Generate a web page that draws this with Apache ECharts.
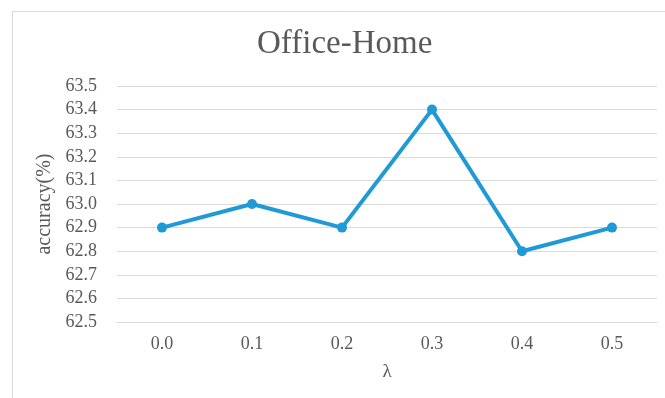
<!DOCTYPE html>
<html>
<head>
<meta charset="utf-8">
<script src="https://cdn.jsdelivr.net/npm/echarts@6/dist/echarts.min.js"></script>
<style>
  html, body { margin: 0; padding: 0; background: #ffffff; }
  #chart { width: 665px; height: 398px; }
</style>
</head>
<body>
<div id="chart"></div>
<script>
// λ values on the x axis
const lambdas = ['0.0', '0.1', '0.2', '0.3', '0.4', '0.5'];
// accuracy (%) on Office-Home for each λ
const accuracy = [62.9, 63.0, 62.9, 63.4, 62.8, 62.9];
// y axis range
const yMin = 62.5;
const yMax = 63.5;
const yStep = 0.1;

const serif = '"Liberation Serif", "Times New Roman", serif';
const textColor = '#595959';

const chart = echarts.init(document.getElementById('chart'), null, { renderer: 'canvas' });
chart.setOption({
  backgroundColor: '#ffffff',
  animation: false,
  graphic: [{
    type: 'rect',
    shape: { x: 12.5, y: 11.5, width: 700, height: 420 },
    style: { fill: 'none', stroke: '#d9d9d9', lineWidth: 1 },
    silent: true
  }],
  title: {
    text: 'Office-Home',
    left: 252,
    top: 23,
    textStyle: { fontFamily: serif, fontSize: 33, fontWeight: 'normal', color: textColor }
  },
  grid: { left: 117, right: 8, top: 86, bottom: 76 },
  xAxis: {
    type: 'category',
    data: lambdas,
    boundaryGap: true,
    name: 'λ',
    nameLocation: 'middle',
    nameGap: 41,
    nameTextStyle: { fontFamily: serif, fontSize: 19, color: textColor },
    axisLine: { show: true, lineStyle: { color: '#d9d9d9', width: 1 } },
    axisTick: { show: false },
    axisLabel: { fontFamily: serif, fontSize: 18, color: textColor, margin: 13 }
  },
  yAxis: {
    type: 'value',
    min: yMin,
    max: yMax,
    interval: yStep,
    name: 'accuracy(%)',
    nameLocation: 'middle',
    nameGap: 57,
    nameTextStyle: { fontFamily: serif, fontSize: 20, color: textColor },
    axisLine: { show: false },
    axisTick: { show: false },
    axisLabel: {
      fontFamily: serif, fontSize: 18, color: textColor, margin: 20,
      formatter: v => v.toFixed(1)
    },
    splitLine: { lineStyle: { color: '#d9d9d9', width: 1 } }
  },
  series: [{
    type: 'line',
    data: accuracy,
    symbol: 'circle',
    symbolSize: 10,
    lineStyle: { color: '#1f9ad6', width: 4 },
    itemStyle: { color: '#1f9ad6' }
  }]
});
</script>
</body>
</html>
